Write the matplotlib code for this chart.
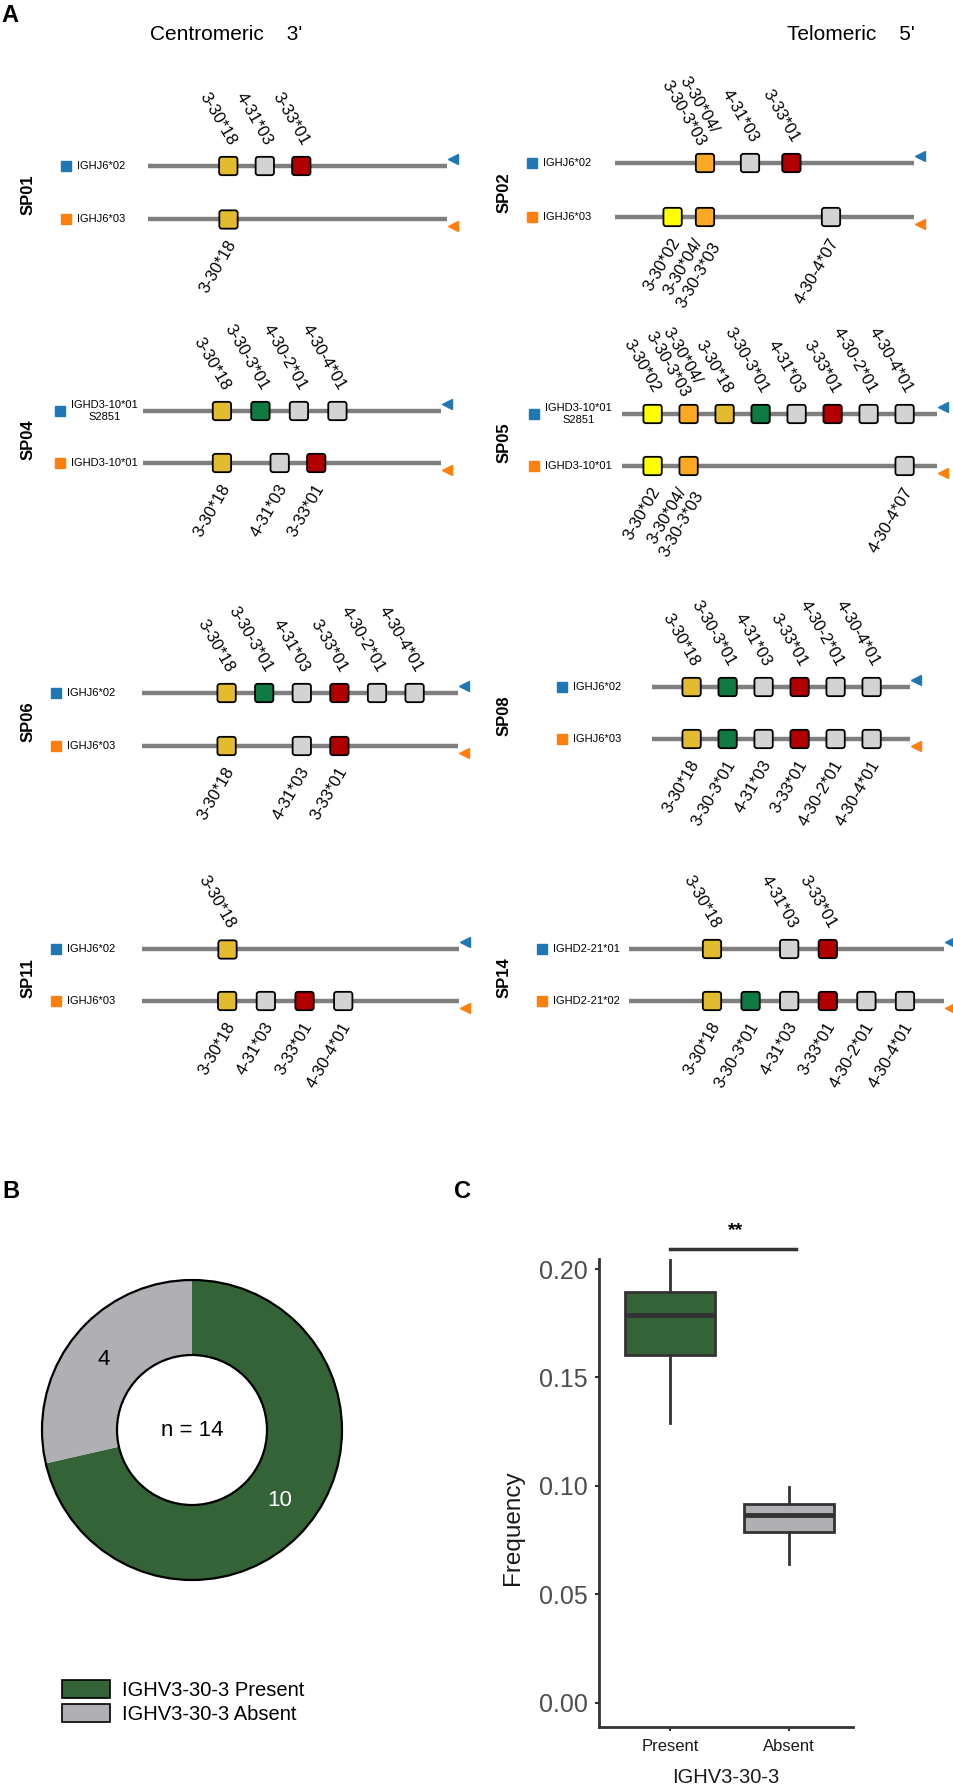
import numpy as np
import matplotlib
matplotlib.use("Agg")
import matplotlib.pyplot as plt
from matplotlib.path import Path
from matplotlib.patches import Patch, Circle
from matplotlib.transforms import offset_copy

plt.rcParams['font.family'] = ['Liberation Sans', 'DejaVu Sans']

# ---------------------------------
# Data: panel A haplotypes
# ---------------------------------
samples = ["SP01", "SP02", "SP04", "SP05", "SP06", "SP08", "SP11", "SP14"]
hap_names = [
    ["IGHJ6*02", "IGHJ6*03"],
    ["IGHJ6*02", "IGHJ6*03"],
    ["IGHD3-10*01\nS2851", "IGHD3-10*01"],
    ["IGHD3-10*01\nS2851", "IGHD3-10*01"],
    ["IGHJ6*02", "IGHJ6*03"],
    ["IGHJ6*02", "IGHJ6*03"],
    ["IGHJ6*02", "IGHJ6*03"],
    ["IGHD2-21*01", "IGHD2-21*02"],
]
hap1_genes = [
    ["3-30*18", "4-31*03", "3-33*01"],
    ["3-30*04/3-30-3*03", "4-31*03", "3-33*01"],
    ["3-30*18", "3-30-3*01", "4-30-2*01", "4-30-4*01"],
    ["3-30*02", "3-30*04/3-30-3*03", "3-30*18", "3-30-3*01", "4-31*03",
     "3-33*01", "4-30-2*01", "4-30-4*01"],
    ["3-30*18", "3-30-3*01", "4-31*03", "3-33*01", "4-30-2*01", "4-30-4*01"],
    ["3-30*18", "3-30-3*01", "4-31*03", "3-33*01", "4-30-2*01", "4-30-4*01"],
    ["3-30*18"],
    ["3-30*18", "4-31*03", "3-33*01"],
]
hap1_pos = [
    [2.2, 3.2, 4.2],
    [2.5, 3.75, 4.9],
    [2.05, 3.05, 4.05, 5.05],
    [0.85, 1.85, 2.85, 3.85, 4.85, 5.85, 6.85, 7.85],
    [2.25, 3.25, 4.25, 5.25, 6.25, 7.25],
    [1.1, 2.1, 3.1, 4.1, 5.1, 6.1],
    [2.2],
    [2.15, 4.15, 5.15],
]
hap2_genes = [
    ["3-30*18"],
    ["3-30*02", "3-30*04/3-30-3*03", "4-30-4*07"],
    ["3-30*18", "4-31*03", "3-33*01"],
    ["3-30*02", "3-30*04/3-30-3*03", "4-30-4*07"],
    ["3-30*18", "4-31*03", "3-33*01"],
    ["3-30*18", "3-30-3*01", "4-31*03", "3-33*01", "4-30-2*01", "4-30-4*01"],
    ["3-30*18", "4-31*03", "3-33*01", "4-30-4*01"],
    ["3-30*18", "3-30-3*01", "4-31*03", "3-33*01", "4-30-2*01", "4-30-4*01"],
]
hap2_pos = [
    [2.2],
    [1.6, 2.5, 6.0],
    [2.05, 3.55, 4.5],
    [0.85, 1.85, 7.85],
    [2.25, 4.25, 5.25],
    [1.1, 2.1, 3.1, 4.1, 5.1, 6.1],
    [2.2, 3.2, 4.2, 5.2],
    [2.15, 3.15, 4.15, 5.15, 6.15, 7.15],
]
locus_len = [8.2, 8.3, 7.75, 8.75, 8.4, 7.17, 8.2, 8.15]

gene_colors = {
    "3-30*18": "#E2BC2E",
    "3-30-3*01": "#0F7A42",
    "3-33*01": "#B20000",
    "3-30*04/3-30-3*03": "#FBA922",
    "3-30*02": "#FFFF00",
    "4-31*03": "#D3D3D3",
    "4-30-2*01": "#D3D3D3",
    "4-30-4*01": "#D3D3D3",
    "4-30-4*07": "#D3D3D3",
}
hap_colors = ["#1F77B4", "#FF7F0E"]

# ---------------------------------
# Data: panels B and C
# ---------------------------------
groups = ["Present", "Absent"]
group_counts = [10, 4]
group_colors = ["#336337", "#B0B0B4"]
freq_med = [0.1788, 0.0864]
freq_q1 = [0.1602, 0.0788]
freq_q3 = [0.1894, 0.0918]
freq_lo = [0.1292, 0.0639]
freq_hi = [0.2043, 0.0994]

# ---------------------------------
# Layout (pixels)
# ---------------------------------
W, H = 954, 1785
line_x0 = [148, 615, 143, 622, 142, 652, 142, 629]
slot_px = [36.5, 36, 38.5, 36, 37.6, 36, 38.7, 38.6]
row_y = [166, 163, 411, 414, 693, 687, 949, 949]
row_gap = [53, 54, 52, 52, 53, 52, 52, 52]
key_x = [66, 532, 60, 534, 56, 562, 56, 542]
sp_x = [28, 504, 28, 504, 28, 504, 28, 504]

fig = plt.figure(figsize=(W / 100, H / 100), dpi=100)


def px_axes(x0, x1, y_top, y_bot):
    return fig.add_axes([x0 / W, 1 - y_bot / H, (x1 - x0) / W, (y_bot - y_top) / H])


# rounded square marker
r = 0.28
t = np.linspace(0, np.pi / 2, 8)
pts = []
for cx, cy, a0 in [(1 - r, 1 - r, 0), (r - 1, 1 - r, np.pi / 2),
                   (r - 1, r - 1, np.pi), (1 - r, r - 1, 1.5 * np.pi)]:
    pts += list(zip(cx + r * np.cos(a0 + t), cy + r * np.sin(a0 + t)))
pts.append(pts[0])
rsq = Path(pts, closed=True)

# ---------------------------------
# Panel A
# ---------------------------------
for i, name in enumerate(samples):
    step = slot_px[i]
    L = locus_len[i]
    d = row_gap[i]
    y1 = row_y[i]
    ax = px_axes(line_x0[i], line_x0[i] + L * step, y1 - d / 2, y1 + 1.5 * d)
    ax.set_xlim(0, L)
    ax.set_ylim(-0.5, 1.5)
    ax.axis("off")

    rows = [(1, hap1_genes[i], hap1_pos[i], 1), (0, hap2_genes[i], hap2_pos[i], -1)]
    for k, (yy, genes, pos, side) in enumerate(rows):
        ax.plot([0, L], [yy, yy], color="#7F7F7F", lw=3.2, solid_capstyle="butt", zorder=1)
        ax.scatter(pos, [yy] * len(pos), marker=rsq, s=13.2 ** 2,
                   c=[gene_colors[g] for g in genes], edgecolors="black",
                   linewidths=1.3, zorder=3, clip_on=False)
        for g, p in zip(genes, pos):
            ax.annotate(g.replace("/", "/\n"), xy=(p, yy),
                        xytext=(3, 16 * side), textcoords="offset points",
                        rotation=-60 * side, rotation_mode="anchor",
                        ha="right", va="center", fontsize=12,
                        multialignment="center", annotation_clip=False)
        # strand triangle
        tri = offset_copy(ax.transData, fig=fig, x=6, y=7 * side, units="dots")
        ax.plot([L], [yy], marker="<", ms=7, color=hap_colors[k],
                transform=tri, clip_on=False)
        # haplotype key
        kx = (key_x[i] - line_x0[i]) / step
        ax.plot([kx], [yy], marker="s", ms=6.5, color=hap_colors[k], clip_on=False)
        ax.text(kx + 11 / step, yy, hap_names[i][k], fontsize=8, ha="left",
                va="center", multialignment="center")
    ax.text((sp_x[i] - line_x0[i]) / step, 0.45, name, rotation=90,
            fontsize=12, fontweight="bold", ha="center", va="center")

fig.text(150 / W, 1 - 34 / H, "Centromeric    3'", fontsize=15, ha="left", va="center")
fig.text(915 / W, 1 - 34 / H, "Telomeric    5'", fontsize=15, ha="right", va="center")

# ---------------------------------
# Panel B: donut
# ---------------------------------
cx, cy, R = 192, 1430, 150
axb = px_axes(cx - 170, cx + 170, cy - 170, cy + 170)
wedges, _ = axb.pie(group_counts, colors=group_colors, startangle=90,
                    counterclock=False, radius=1,
                    wedgeprops=dict(width=0.5, edgecolor="none"))
axb.add_patch(Circle((0, 0), 1, fill=False, ec="black", lw=1.6))
axb.add_patch(Circle((0, 0), 0.5, fc="white", ec="black", lw=1.6))
for w, n, tc in zip(wedges, group_counts, ["white", "black"]):
    ang = np.deg2rad((w.theta1 + w.theta2) / 2)
    axb.text(0.75 * np.cos(ang), 0.75 * np.sin(ang), str(n), fontsize=16,
             color=tc, ha="center", va="center")
axb.text(0, 0, f"n = {sum(group_counts)}", fontsize=16, ha="center", va="center")
axb.set_xlim(-170 / R, 170 / R)
axb.set_ylim(-170 / R, 170 / R)
axb.set_aspect("equal")
axb.axis("off")

fig.legend(handles=[Patch(fc=c, ec="black", lw=1.2, label=f"IGHV3-30-3 {g}")
                    for g, c in zip(groups, group_colors)],
           loc="upper left", bbox_to_anchor=(62 / W, 1 - 1680 / H), frameon=False,
           fontsize=14.5, handlelength=2.4, handleheight=1.0, labelspacing=0.2,
           borderaxespad=0, borderpad=0, handletextpad=0.6)

# ---------------------------------
# Panel C: boxplot
# ---------------------------------
axc = px_axes(599, 853, 1258.6, 1726.5)
stats = [dict(med=m, q1=a, q3=b, whislo=lo, whishi=hi, label=g)
         for g, m, a, b, lo, hi in zip(groups, freq_med, freq_q1, freq_q3, freq_lo, freq_hi)]
bp = axc.bxp(stats, positions=[0, 1], widths=0.76, showfliers=False, showcaps=False,
             patch_artist=True,
             boxprops=dict(lw=2, edgecolor="#333333"),
             medianprops=dict(color="#333333", lw=3.5),
             whiskerprops=dict(color="#333333", lw=2))
for patch, c in zip(bp["boxes"], group_colors):
    patch.set_facecolor(c)
axc.set_xlim(-0.597, 1.538)
axc.set_ylim(-0.011, 0.2048)
axc.set_yticks([0, 0.05, 0.10, 0.15, 0.20])
axc.set_yticklabels(["0.00", "0.05", "0.10", "0.15", "0.20"])
axc.tick_params(axis="y", labelsize=18, labelcolor="#4D4D4D", length=3, width=1.5,
                color="#333333", pad=5)
axc.tick_params(axis="x", labelsize=12, labelcolor="#1A1A1A", length=3, width=1.5,
                color="#333333", pad=6)
for s in ["top", "right"]:
    axc.spines[s].set_visible(False)
for s in ["left", "bottom"]:
    axc.spines[s].set_linewidth(2)
    axc.spines[s].set_color("#333333")
axc.plot([0, 1.06], [0.2093, 0.2093], color="#333333", lw=2.5, clip_on=False)
axc.text(0.555, 0.2175, "**", fontsize=14, fontweight="bold", ha="center", va="center")
fig.text(513 / W, 1 - 1528 / H, "Frequency", rotation=90, fontsize=17.5,
         ha="center", va="center", color="#1A1A1A")
fig.text(726 / W, 1 - 1777 / H, "IGHV3-30-3", fontsize=14.5, ha="center",
         va="center", color="#1A1A1A")

# panel letters
fig.text(10 / W, 1 - 16 / H, "A", fontsize=17, fontweight="bold", ha="center", va="center")
fig.text(11 / W, 1 - 1192 / H, "B", fontsize=17, fontweight="bold", ha="center", va="center")
fig.text(463 / W, 1 - 1192 / H, "C", fontsize=17, fontweight="bold", ha="center", va="center")

fig.savefig("out.png", dpi=100)
